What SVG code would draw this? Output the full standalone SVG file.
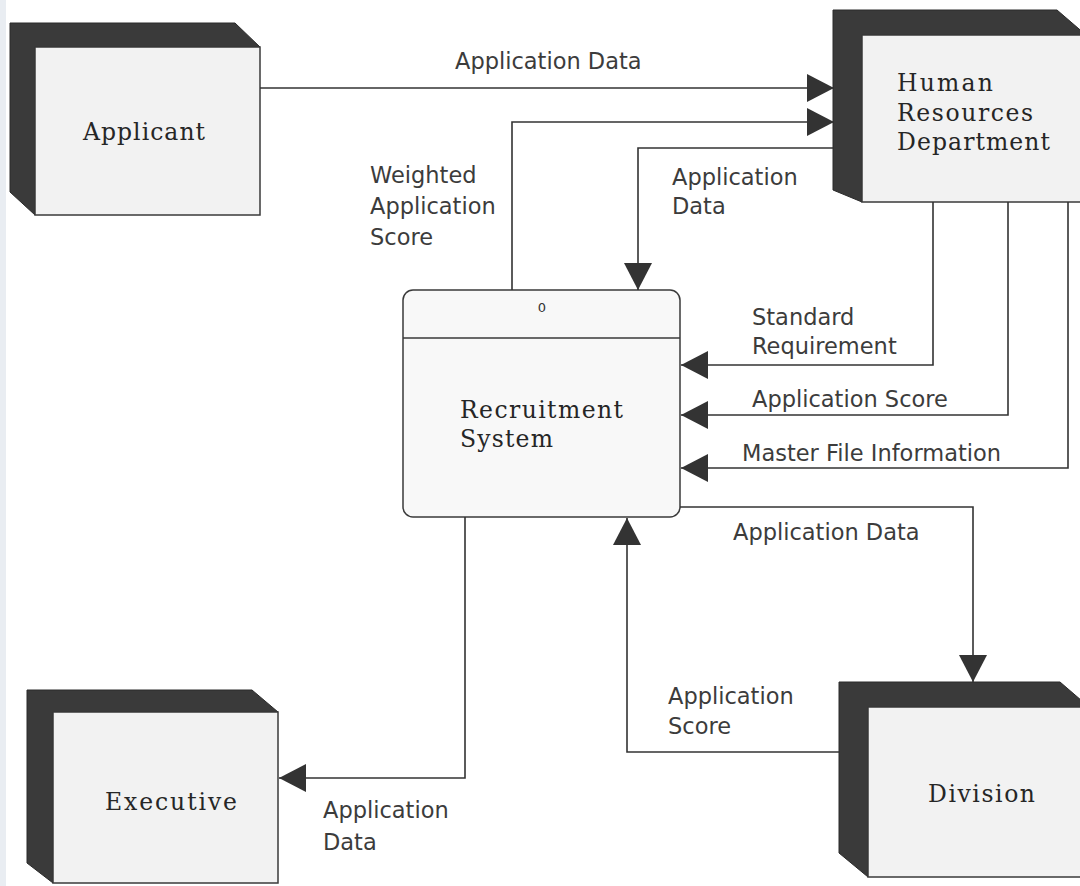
<svg xmlns="http://www.w3.org/2000/svg" width="1080" height="886" viewBox="0 0 1080 886">
  <defs>
    <style>
      .side { fill: #3a3a3a; stroke: #2a2a2a; stroke-width: 1; }
      .face { fill: #f2f2f2; stroke: #3a3a3a; stroke-width: 1.5; }
      .proc { fill: #f8f8f8; stroke: #3a3a3a; stroke-width: 1.5; }
      .ent { font-family: "DejaVu Serif", "Liberation Serif", serif; font-size: 23.5px; fill: #262626; }
      .lbl { font-family: "DejaVu Sans", "Liberation Sans", sans-serif; font-size: 22.5px; fill: #3c3c3c; }
      .flow { fill: none; stroke: #333; stroke-width: 1.6; marker-end: url(#arrow); }
    </style>
    <marker id="arrow" markerUnits="userSpaceOnUse" markerWidth="28" markerHeight="30" refX="27" refY="14" orient="auto">
      <path d="M0,0 L27,14 L0,28 Z" fill="#333"/>
    </marker>
  </defs>

  <rect width="1080" height="886" fill="#ffffff"/>
  <rect width="6" height="886" fill="#e9edf2"/>

  <!-- External entity: Applicant -->
  <g id="applicant">
    <polygon class="side" points="10,23 235,23 260,47 35,47 35,215 10,192"/>
    <rect class="face" x="35" y="47" width="225" height="168"/>
    <text class="ent" x="83" y="140" textLength="122" lengthAdjust="spacing">Applicant</text>
  </g>

  <!-- External entity: Human Resources Department -->
  <g id="hr-department">
    <polygon class="side" points="833,10 1057,10 1086,35 862,35 862,202 833,190"/>
    <rect class="face" x="862" y="35" width="224" height="167"/>
    <text class="ent" x="897" y="91" textLength="96" lengthAdjust="spacing">Human</text>
    <text class="ent" x="897" y="121" textLength="136" lengthAdjust="spacing">Resources</text>
    <text class="ent" x="897" y="150" textLength="153" lengthAdjust="spacing">Department</text>
  </g>

  <!-- Process 0: Recruitment System -->
  <g id="recruitment-system">
    <rect class="proc" x="403" y="290" width="277" height="227" rx="10" ry="10"/>
    <line x1="403" y1="338" x2="680" y2="338" stroke="#3a3a3a" stroke-width="1.5"/>
    <text x="542" y="312" text-anchor="middle" font-family="DejaVu Sans, sans-serif" font-size="13" fill="#333">0</text>
    <text class="ent" x="460" y="418" textLength="163" lengthAdjust="spacing">Recruitment</text>
    <text class="ent" x="460" y="447" textLength="93" lengthAdjust="spacing">System</text>
  </g>

  <!-- External entity: Executive -->
  <g id="executive">
    <polygon class="side" points="27,690 252,690 278,712 53,712 53,883 27,863"/>
    <rect class="face" x="53" y="712" width="225" height="171"/>
    <text class="ent" x="105" y="810" textLength="132" lengthAdjust="spacing">Executive</text>
  </g>

  <!-- External entity: Division -->
  <g id="division">
    <polygon class="side" points="839,682 1060,682 1089,707 868,707 868,877 839,853"/>
    <rect class="face" x="868" y="707" width="221" height="170"/>
    <text class="ent" x="928" y="802" textLength="107" lengthAdjust="spacing">Division</text>
  </g>

  <!-- Data flows -->
  <g id="flows">
    <path class="flow" d="M260,88 H834"/>
    <path class="flow" d="M512,290 V122 H834"/>
    <path class="flow" d="M833,148 H638 V290"/>
    <path class="flow" d="M933,202 V365 H681"/>
    <path class="flow" d="M1008,202 V415 H681"/>
    <path class="flow" d="M1068,202 V468 H681"/>
    <path class="flow" d="M680,507 H973 V682"/>
    <path class="flow" d="M839,752 H627 V518"/>
    <path class="flow" d="M465,517 V778 H279"/>
  </g>

  <!-- Flow labels -->
  <g id="flow-labels">
    <text class="lbl" x="455" y="69">Application Data</text>
    <text class="lbl" x="370" y="183">Weighted</text>
    <text class="lbl" x="370" y="214">Application</text>
    <text class="lbl" x="370" y="245">Score</text>
    <text class="lbl" x="672" y="185">Application</text>
    <text class="lbl" x="672" y="214">Data</text>
    <text class="lbl" x="752" y="325">Standard</text>
    <text class="lbl" x="752" y="354">Requirement</text>
    <text class="lbl" x="752" y="407">Application Score</text>
    <text class="lbl" x="742" y="461">Master File Information</text>
    <text class="lbl" x="733" y="540">Application Data</text>
    <text class="lbl" x="668" y="704">Application</text>
    <text class="lbl" x="668" y="734">Score</text>
    <text class="lbl" x="323" y="818">Application</text>
    <text class="lbl" x="323" y="850">Data</text>
  </g>
</svg>
